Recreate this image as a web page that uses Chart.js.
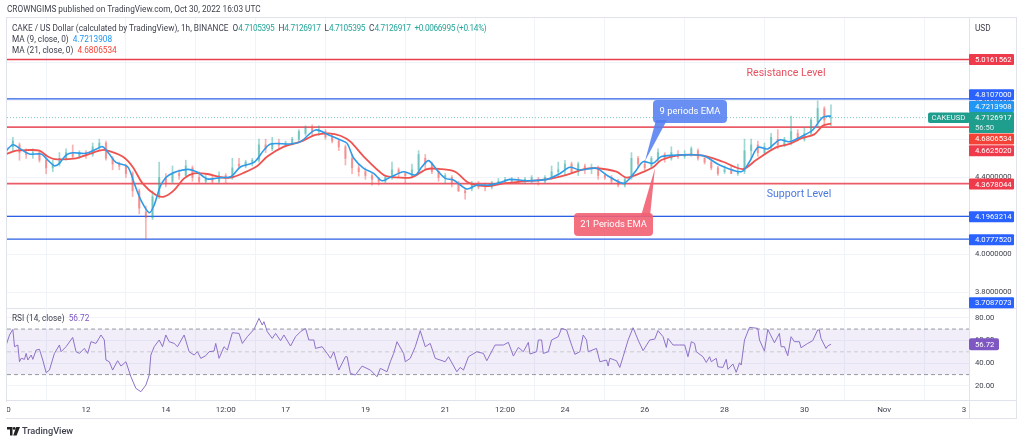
<!DOCTYPE html>
<html lang="en">
<head>
    <meta charset="UTF-8">
    <title>CAKE / US Dollar</title>
    <script src="https://cdn.jsdelivr.net/npm/chart.js"></script>
    <style>
        body {
            margin: 0;
            background: #fff;
            font-family: Roboto, sans-serif;
            color: #3c3f4a;
        }

        .page {
            position: relative;
            width: 1024px;
            height: 443px;
            overflow: hidden;
            filter: blur(0.35px);
        }

        canvas {
            position: absolute;
            left: 0;
            top: 0;
        }

        .label {
            position: absolute;
            white-space: pre;
            line-height: 11px;
            font-size: 8.25px;
        }

        .cover {
            position: absolute;
            left: 0;
            top: 402px;
            width: 7px;
            height: 16px;
            background: #fff;
        }

        .up { color: #26a69a; letter-spacing: -0.35px; margin-right: 4px; }
        .blue { color: #2196f3; }
        .red { color: #f44336; }
        .purple { color: #7e57c2; }
    </style>
</head>
<body>
<div class="page">
    <canvas id="chart" width="1024" height="443"></canvas>
    <div class="cover"></div>
    <div class="label" style="left:7px;top:4px;">CROWNGIMS published on TradingView.com, Oct 30, 2022 16:03 UTC</div>
    <div class="label" style="left:12px;top:23px;">CAKE / US Dollar (calculated by TradingView), 1h, BINANCE  O<span class="up">4.7105395</span>H<span class="up">4.7126917</span>L<span class="up">4.7105395</span>C<span class="up">4.7126917</span><span class="up">+0.0066995 (+0.14%)</span></div>
    <div class="label" style="left:12px;top:34px;">MA (9, close, 0)  <span class="blue">4.7213908</span></div>
    <div class="label" style="left:12px;top:45px;">MA (21, close, 0)  <span class="red">4.6806534</span></div>
    <div class="label" style="left:12px;top:313px;">RSI (14, close)  <span class="purple">56.72</span></div>
    <div class="label" style="left:975px;top:23px;">USD</div>
    <svg style="position:absolute;left:7px;top:427px;" width="13" height="9" viewBox="0 0 13 9">
        <path d="M0 0h5.5v8.5H3V2.6H0z M9.2 0H13L9.6 8.5H6.2z" fill="#222"/>
        <circle cx="7.2" cy="1.4" r="1.4" fill="#222"/>
    </svg>
    <div class="label" style="left:22px;top:425px;font-size:9.2px;font-weight:500;">TradingView</div>
</div>

<script>
    // hours counted from Oct 10 00:00
    const tickHours = [0, 48, 96, 132, 168, 216, 264, 300, 336, 384, 432, 480, 528, 576];
    const tickLabels = ['10', '12', '14', '12:00', '17', '19', '21', '12:00', '24', '26', '28', '30', 'Nov', '3'];

    const resistanceLevels = [5.0161562, 4.6625020, 4.3678044];
    const blueLevels = [4.8107000, 4.1963214, 4.0777520];
    const lastPrice = 4.7126917;
    const rsiBands = [70, 50, 30];

    const candleHours = [
        0, 4, 8, 12, 16, 20, 24, 28, 32, 36, 40, 44, 48, 52, 56, 60, 64, 68, 72, 76, 80, 84, 88, 92, 96,
        100, 104, 108, 112, 116, 120, 124, 128, 132, 136, 140, 144, 148, 152, 156, 160, 164, 168, 172, 176, 180, 184, 188, 192, 196,
        200, 204, 208, 212, 216, 220, 224, 228, 232, 236, 240, 244, 248, 252, 256, 260, 264, 268, 272, 276, 280, 284, 288, 292, 296,
        300, 304, 308, 312, 316, 320, 324, 328, 332, 336, 340, 344, 348, 352, 356, 360, 364, 368, 372, 376, 380, 384, 388, 392, 396,
        400, 404, 408, 412, 416, 420, 424, 428, 432, 436, 440, 444, 448, 452, 456, 460, 464, 468, 472, 476, 480, 484, 488, 492, 496
    ];
    const candleOpen = [
        4.53, 4.56, 4.57, 4.53, 4.52, 4.53, 4.49, 4.45, 4.47, 4.50, 4.53, 4.51, 4.53, 4.52, 4.56, 4.58, 4.50, 4.47, 4.46, 4.42, 4.33, 4.22, 4.19, 4.30, 4.40,
        4.38, 4.42, 4.41, 4.45, 4.40, 4.38, 4.39, 4.38, 4.41, 4.40, 4.47, 4.46, 4.48, 4.49, 4.57, 4.55, 4.58, 4.57, 4.58, 4.60, 4.63, 4.66, 4.64, 4.64, 4.61,
        4.59, 4.56, 4.50, 4.45, 4.43, 4.41, 4.39, 4.38, 4.40, 4.44, 4.42, 4.41, 4.44, 4.50, 4.47, 4.43, 4.40, 4.40, 4.37, 4.33, 4.34, 4.37, 4.36, 4.35, 4.37,
        4.38, 4.38, 4.39, 4.38, 4.39, 4.39, 4.38, 4.40, 4.43, 4.44, 4.47, 4.43, 4.46, 4.45, 4.45, 4.41, 4.40, 4.38, 4.36, 4.40, 4.50, 4.47, 4.46, 4.50, 4.52,
        4.50, 4.52, 4.51, 4.52, 4.54, 4.50, 4.48, 4.45, 4.43, 4.44, 4.42, 4.43, 4.54, 4.57, 4.53, 4.56, 4.60, 4.57, 4.60, 4.63, 4.60, 4.63, 4.69, 4.76, 4.7105395
    ];
    const candleClose = [
        4.56, 4.59, 4.53, 4.52, 4.53, 4.49, 4.45, 4.47, 4.50, 4.53, 4.51, 4.53, 4.52, 4.56, 4.58, 4.50, 4.47, 4.46, 4.42, 4.33, 4.24, 4.19, 4.30, 4.40, 4.37,
        4.42, 4.41, 4.46, 4.40, 4.38, 4.39, 4.38, 4.41, 4.40, 4.45, 4.46, 4.48, 4.49, 4.57, 4.55, 4.58, 4.57, 4.58, 4.60, 4.64, 4.66, 4.64, 4.65, 4.61, 4.59,
        4.56, 4.50, 4.45, 4.43, 4.41, 4.39, 4.38, 4.40, 4.44, 4.42, 4.41, 4.44, 4.52, 4.47, 4.43, 4.40, 4.41, 4.37, 4.33, 4.32, 4.37, 4.35, 4.35, 4.37, 4.38,
        4.39, 4.39, 4.38, 4.39, 4.40, 4.38, 4.40, 4.43, 4.44, 4.47, 4.43, 4.47, 4.44, 4.45, 4.41, 4.40, 4.38, 4.36, 4.39, 4.50, 4.47, 4.45, 4.50, 4.53, 4.50,
        4.53, 4.51, 4.52, 4.55, 4.50, 4.48, 4.45, 4.42, 4.44, 4.42, 4.43, 4.54, 4.57, 4.53, 4.56, 4.61, 4.57, 4.60, 4.64, 4.60, 4.63, 4.70, 4.76, 4.70, 4.7126917
    ];
    const candleLow = [
        4.51, 4.54, 4.49, 4.50, 4.50, 4.48, 4.42, 4.43, 4.46, 4.49, 4.50, 4.50, 4.50, 4.51, 4.54, 4.49, 4.44, 4.44, 4.40, 4.30, 4.21, 4.08, 4.18, 4.29, 4.35,
        4.37, 4.39, 4.40, 4.38, 4.37, 4.37, 4.37, 4.37, 4.37, 4.39, 4.45, 4.45, 4.46, 4.48, 4.53, 4.54, 4.55, 4.56, 4.57, 4.58, 4.62, 4.62, 4.62, 4.60, 4.58,
        4.54, 4.465, 4.42, 4.407, 4.39, 4.36, 4.36, 4.37, 4.39, 4.40, 4.37, 4.40, 4.42, 4.44, 4.42, 4.38, 4.37, 4.35, 4.326, 4.286, 4.33, 4.34, 4.33, 4.34, 4.36,
        4.37, 4.37, 4.37, 4.37, 4.37, 4.36, 4.37, 4.39, 4.41, 4.41, 4.42, 4.41, 4.42, 4.42, 4.39, 4.39, 4.37, 4.35, 4.35, 4.39, 4.45, 4.44, 4.45, 4.48, 4.48,
        4.49, 4.50, 4.50, 4.51, 4.49, 4.47, 4.44, 4.41, 4.42, 4.42, 4.41, 4.42, 4.50, 4.51, 4.52, 4.54, 4.55, 4.56, 4.57, 4.59, 4.59, 4.62, 4.66, 4.67, 4.67
    ];
    const candleHigh = [
        4.58, 4.61, 4.58, 4.55, 4.55, 4.54, 4.50, 4.49, 4.53, 4.55, 4.57, 4.54, 4.54, 4.58, 4.60, 4.59, 4.51, 4.48, 4.47, 4.43, 4.34, 4.25, 4.33, 4.48, 4.42,
        4.46, 4.44, 4.49, 4.46, 4.43, 4.41, 4.41, 4.43, 4.42, 4.50, 4.50, 4.49, 4.50, 4.60, 4.60, 4.61, 4.60, 4.59, 4.61, 4.65, 4.67, 4.675, 4.67, 4.65, 4.63,
        4.60, 4.57, 4.52, 4.47, 4.45, 4.42, 4.40, 4.41, 4.48, 4.45, 4.43, 4.47, 4.54, 4.52, 4.48, 4.44, 4.42, 4.41, 4.38, 4.34, 4.38, 4.38, 4.37, 4.38, 4.395,
        4.40, 4.40, 4.40, 4.40, 4.41, 4.40, 4.41, 4.46, 4.48, 4.49, 4.48, 4.48, 4.47, 4.47, 4.46, 4.42, 4.41, 4.39, 4.40, 4.53, 4.51, 4.49, 4.51, 4.55, 4.53,
        4.56, 4.54, 4.54, 4.56, 4.55, 4.51, 4.49, 4.46, 4.46, 4.46, 4.47, 4.60, 4.60, 4.59, 4.58, 4.63, 4.65, 4.61, 4.72, 4.65, 4.66, 4.71, 4.80, 4.77, 4.78
    ];

    const ma9Hours = [
        0, 4, 8, 14, 21, 25, 29, 32, 36, 40, 48, 54, 58, 62, 66, 73, 77, 81, 86, 89, 93, 98, 109, 115, 121, 129, 135, 141, 149, 155, 159, 171, 177, 186, 194, 201,
        205, 209, 215, 221, 226, 231, 239, 246, 250, 254, 259, 264, 269, 277, 283, 290, 297, 303, 313, 325, 333, 339, 345, 355, 361, 371, 375, 379, 383, 389, 394, 405,
        419, 429, 442, 447, 452, 458, 465, 471, 478, 485, 491, 496
    ];
    const ma9Values = [
        4.540, 4.571, 4.552, 4.522, 4.522, 4.491, 4.461, 4.474, 4.517, 4.529, 4.526, 4.547, 4.561, 4.522, 4.479, 4.456, 4.369, 4.282, 4.216, 4.256, 4.360, 4.413, 4.442, 4.427, 4.392, 4.399, 4.404, 4.456, 4.479, 4.543, 4.575, 4.575, 4.587, 4.648, 4.622, 4.596,
        4.578, 4.500, 4.448, 4.421, 4.383, 4.401, 4.430, 4.413, 4.456, 4.488, 4.439, 4.395, 4.387, 4.340, 4.360, 4.360, 4.373, 4.390, 4.383, 4.390, 4.421, 4.453, 4.439, 4.448, 4.413, 4.369, 4.395, 4.439, 4.482, 4.474, 4.509, 4.517,
        4.514, 4.465, 4.430, 4.482, 4.557, 4.549, 4.596, 4.587, 4.613, 4.648, 4.714, 4.7213908
    ];
    const ma21Hours = [
        0, 6, 12, 20, 25, 29, 42, 48, 56, 60, 70, 76, 82, 90, 95, 101, 107, 113, 121, 129, 135, 143, 151, 157, 167, 177, 186, 194, 201,
        207, 215, 227, 233, 244, 253, 261, 270, 278, 289, 299, 309, 325, 337, 347, 355, 367, 373, 381, 389, 394, 405,
        419, 431, 443, 451, 463, 471, 478, 486, 491, 496
    ];
    const ma21Values = [
        4.522, 4.540, 4.543, 4.540, 4.509, 4.496, 4.500, 4.517, 4.540, 4.543, 4.509, 4.456, 4.369, 4.308, 4.300, 4.334, 4.395, 4.421, 4.418, 4.401, 4.399, 4.425, 4.460, 4.509, 4.561, 4.587, 4.622, 4.630, 4.618,
        4.587, 4.509, 4.413, 4.401, 4.401, 4.444, 4.444, 4.430, 4.373, 4.355, 4.369, 4.378, 4.390, 4.413, 4.442, 4.448, 4.430, 4.399, 4.421, 4.453, 4.491, 4.517,
        4.514, 4.482, 4.444, 4.491, 4.557, 4.575, 4.604, 4.625, 4.670, 4.6806534
    ];

    const rsiHours = [
        0, 2, 4, 5, 7, 8, 9, 11, 12, 13, 15, 16, 18, 20, 22, 24, 26, 29, 32, 33, 36, 40, 42, 44, 47, 49, 51, 54, 57, 59, 60, 62, 64, 67, 69, 72, 75, 78, 81, 84, 86, 87, 89, 92, 94, 96, 98,
        101, 103, 107, 110, 113, 115, 117, 120, 122, 125, 126, 128, 131, 133, 136, 140, 142, 145, 149, 152, 154, 155, 157, 160, 162, 165, 167, 171, 174, 177, 180, 182, 185, 186, 190, 193, 195, 197, 200,
        204, 205, 207, 210, 214, 219, 223, 225, 229, 231, 233, 235, 239, 240, 243, 246, 249, 252, 255, 258, 264, 266, 271, 273, 275, 278, 283, 287, 289, 294, 299,
        302, 305, 308, 311, 314, 315, 319, 320, 322, 323, 326, 328, 332, 334, 337, 340, 342, 345, 347, 349, 350, 355, 357, 361, 362, 363, 367, 369, 371, 374, 377, 380, 383, 387, 390, 392, 395, 397, 398,
        401, 405, 408, 410, 412, 414, 415, 419, 421, 423, 424, 427, 428, 431, 433, 434, 437, 439, 441, 442, 444, 447, 452, 453, 456, 458, 462, 465, 466, 468, 470, 472, 474, 477, 478, 482, 485, 488, 489, 490, 493, 494, 496
    ];
    const rsiValues = [
        56.0, 64.8, 69.7, 54.5, 56.0, 41.3, 44.3, 43.4, 48.6, 42.8, 47.2, 43.4, 51.6, 52.2, 42.8, 31.7, 34.0, 48.6, 56.0, 50.1, 54.5, 62.7, 50.1, 48.6, 53.0, 48.6, 58.9, 57.4, 64.8, 60.4, 42.8, 41.3, 34.0, 42.2, 37.5, 41.3, 28.1, 17.9, 15.0, 20.8, 29.6, 47.2, 54.5, 60.4, 54.5, 64.8, 58.9,
        57.4, 54.5, 64.8, 50.1, 47.2, 50.1, 44.3, 46.6, 50.1, 50.7, 57.4, 44.3, 54.5, 51.6, 66.8, 66.2, 57.4, 63.3, 69.7, 79.4, 73.5, 76.5, 67.7, 61.8, 66.2, 59.8, 64.8, 55.1, 63.3, 67.7, 70.6, 60.4, 60.4, 53.0, 54.5, 48.6, 44.3, 50.1, 34.0,
        45.7, 45.7, 31.1, 29.6, 37.5, 34.0, 28.1, 35.5, 32.5, 41.3, 48.6, 58.9, 48.6, 41.3, 44.3, 54.5, 68.6, 54.5, 57.4, 44.3, 41.3, 45.7, 32.5, 36.3, 34.0, 45.7, 50.1, 48.6, 42.2, 56.0, 56.0,
        58.3, 46.3, 53.9, 50.1, 58.3, 48.1, 50.1, 60.4, 60.4, 48.6, 50.1, 60.4, 63.3, 70.6, 69.2, 56.0, 47.8, 50.1, 64.8, 60.4, 50.1, 53.0, 41.3, 42.8, 37.5, 44.3, 42.2, 36.3, 45.7, 60.4, 71.2, 60.4, 51.0, 60.4, 61.2, 68.6, 63.3, 53.9, 61.8,
        56.0, 56.0, 56.0, 45.7, 58.9, 57.4, 50.1, 45.7, 40.7, 45.7, 41.3, 44.3, 36.9, 36.3, 43.4, 34.6, 39.3, 32.0, 40.4, 38.4, 60.4, 71.5, 70.6, 60.4, 50.7, 69.7, 58.0, 66.2, 54.5, 54.5, 46.6, 63.3, 58.9, 58.9, 53.6, 57.4, 59.8, 69.2, 69.2, 61.8, 53.0, 55.1, 56.72
    ];

    const UP = '#26a69a';
    const DOWN = '#ef5350';
    const RED_LEVEL = '#e8404f';
    const BLUE_LEVEL = '#2a5fe6';
    const BORDER = '#e0e3eb';
    const GRID = '#f0f3fa';
    const FONT = 'Roboto, sans-serif';
    const xMin = 0.48;
    const xMax = 579;

    function toPoints(xs, ys) {
        return xs.map((x, i) => ({ x: x, y: ys[i] }));
    }

    function flatLine(value, color, width, yAxisID, extra) {
        return Object.assign({
            type: 'line',
            data: [{ x: xMin, y: value }, { x: xMax, y: value }],
            borderColor: color,
            borderWidth: width,
            pointRadius: 0,
            yAxisID: yAxisID,
            order: 5
        }, extra || {});
    }

    const datasets = [];

    // candle wicks and bodies as floating bars
    const candleColors = candleOpen.map((o, i) => candleClose[i] >= o ? UP : DOWN);
    datasets.push({
        type: 'bar',
        data: candleHours.map((h, i) => ({ x: h, y: [candleLow[i], candleHigh[i]] })),
        backgroundColor: candleColors.map(c => c + '70'),
        barThickness: 1,
        grouped: false,
        yAxisID: 'y',
        order: 4
    });
    datasets.push({
        type: 'bar',
        data: candleHours.map((h, i) => ({ x: h, y: [candleOpen[i], candleClose[i]] })),
        backgroundColor: candleColors.map(c => c + '60'),
        barThickness: 1.6,
        grouped: false,
        yAxisID: 'y',
        order: 4
    });

    resistanceLevels.forEach((v, i) => {
        datasets.push(flatLine(v, i === 0 ? RED_LEVEL : 'rgba(232, 64, 79, 0.85)', i === 0 ? 1.3 : 1.8, 'y'));
    });
    blueLevels.forEach(v => datasets.push(flatLine(v, BLUE_LEVEL, 1.3, 'y')));
    datasets.push(flatLine(lastPrice, 'rgba(38, 166, 154, 0.6)', 1, 'y', { borderDash: [1, 2] }));

    datasets.push({
        type: 'line',
        data: toPoints(ma21Hours, ma21Values),
        borderColor: '#ef5350',
        borderWidth: 1.8,
        pointRadius: 0,
        tension: 0.3,
        yAxisID: 'y',
        order: 2
    });
    datasets.push({
        type: 'line',
        data: toPoints(ma9Hours, ma9Values),
        borderColor: '#2f9be8',
        borderWidth: 1.6,
        pointRadius: 0,
        tension: 0.3,
        yAxisID: 'y',
        order: 1
    });

    // RSI pane
    const bandTopIndex = datasets.length;
    datasets.push(flatLine(rsiBands[0], '#9598a1', 1, 'rsi', { borderDash: [4, 3] }));
    datasets.push(flatLine(rsiBands[1], '#c9cad0', 1, 'rsi', { borderDash: [4, 3] }));
    datasets.push(flatLine(rsiBands[2], '#9598a1', 1, 'rsi', {
        borderDash: [4, 3],
        fill: { target: bandTopIndex },
        backgroundColor: 'rgba(126, 87, 194, 0.1)'
    }));
    datasets.push({
        type: 'line',
        data: toPoints(rsiHours, rsiValues),
        borderColor: '#8e72c9',
        borderWidth: 1,
        pointRadius: 0,
        yAxisID: 'rsi',
        order: 1
    });

    // price tags on the right, shift moves a tag off its neighbour like TradingView does
    const priceTags = [
        { value: 5.0161562, text: '5.0161562', color: '#ee3a4b', shift: 0 },
        { value: 4.8107000, text: '4.8107000', color: '#2962ff', shift: -4 },
        { value: 4.7213908, text: '4.7213908', color: '#2196f3', shift: -9.5 },
        { value: 4.6806534, text: '4.6806534', color: '#f44336', shift: 15.3 },
        { value: 4.6625020, text: '4.6625020', color: '#ee3a4b', shift: 23.5 },
        { value: 4.3678044, text: '4.3678044', color: '#ee3a4b', shift: 0.5 },
        { value: 4.1963214, text: '4.1963214', color: '#2962ff', shift: 0.3 },
        { value: 4.0777520, text: '4.0777520', color: '#2962ff', shift: 0.7 },
        { value: 3.7087073, text: '3.7087073', color: '#2962ff', shift: -7 }
    ];

    function roundedBox(ctx, x, y, w, h, r) {
        ctx.beginPath();
        ctx.roundRect(x, y, w, h, r);
        ctx.fill();
    }

    function callout(ctx, box, tail, text, color) {
        ctx.fillStyle = color;
        roundedBox(ctx, box[0], box[1], box[2], box[3], 4);
        ctx.beginPath();
        ctx.moveTo(tail[0], tail[1]);
        ctx.lineTo(tail[2], tail[3]);
        ctx.lineTo(tail[4], tail[5]);
        ctx.closePath();
        ctx.fill();
        ctx.fillStyle = '#fff';
        ctx.font = '9.4px ' + FONT;
        ctx.textAlign = 'center';
        ctx.textBaseline = 'middle';
        ctx.fillText(text, box[0] + box[2] / 2, box[1] + box[3] / 2 + 0.5);
    }

    const tradingViewChrome = {
        id: 'tradingViewChrome',
        beforeDraw(chart) {
            const ctx = chart.ctx;
            const a = chart.chartArea;
            const split = chart.scales.y.bottom;
            ctx.save();
            ctx.fillStyle = '#fff';
            ctx.fillRect(0, 0, chart.width, chart.height);
            ctx.strokeStyle = BORDER;
            ctx.lineWidth = 1;
            ctx.strokeRect(a.left - 0.5, a.top - 0.5, 1017 - a.left, 419 - a.top);
            ctx.beginPath();
            ctx.moveTo(a.left, split + 0.5);
            ctx.lineTo(1017, split + 0.5);
            ctx.moveTo(a.left, a.bottom + 0.5);
            ctx.lineTo(1017, a.bottom + 0.5);
            ctx.moveTo(a.right + 0.5, a.top);
            ctx.lineTo(a.right + 0.5, 419);
            ctx.stroke();
            ctx.restore();
        },
        afterDraw(chart) {
            const ctx = chart.ctx;
            const y = chart.scales.y;
            const rsi = chart.scales.rsi;
            const x0 = chart.chartArea.right;
            ctx.save();
            ctx.textBaseline = 'middle';
            ctx.font = '7.7px ' + FONT;
            ctx.textAlign = 'left';

            priceTags.forEach(tag => {
                const py = y.getPixelForValue(tag.value) + tag.shift;
                ctx.fillStyle = tag.color;
                roundedBox(ctx, x0, py - 5.5, 45, 11, 1);
                ctx.fillStyle = '#fff';
                ctx.fillText(tag.text, x0 + 6, py + 0.5);
            });

            // last price tag with countdown
            const lastY = y.getPixelForValue(lastPrice);
            ctx.fillStyle = '#1f9d8d';
            roundedBox(ctx, x0, lastY - 5.5, 45, 21, 1);
            roundedBox(ctx, 928, lastY - 5, 42, 10.5, 2);
            ctx.fillStyle = '#fff';
            ctx.fillText('4.7126917', x0 + 6, lastY + 0.5);
            ctx.fillStyle = '#d6f0ec';
            ctx.fillText('56:50', x0 + 6, lastY + 10);
            ctx.fillStyle = '#e8f6f4';
            ctx.fillText('CAKEUSD', 931.5, lastY + 0.5);

            const rsiY = rsi.getPixelForValue(rsiValues[rsiValues.length - 1]);
            ctx.fillStyle = '#7e57c2';
            roundedBox(ctx, x0, rsiY - 6, 30, 12, 2);
            ctx.fillStyle = '#fff';
            ctx.fillText('56.72', x0 + 6, rsiY + 0.5);

            callout(ctx, [653, 100, 74, 23], [656, 120, 645, 161, 667, 120], '9 periods EMA', 'rgba(84, 127, 240, 0.88)');
            callout(ctx, [574, 213, 79, 23], [641, 216, 655, 168, 650, 216], '21 Periods EMA', 'rgba(242, 96, 115, 0.9)');

            ctx.font = '10.6px ' + FONT;
            ctx.textAlign = 'center';
            ctx.fillStyle = '#e7505f';
            ctx.fillText('Resistance Level', 786, 73.5);
            ctx.fillStyle = '#4a79e0';
            ctx.fillText('Support Level', 799, 194.5);
            ctx.restore();
        }
    };

    new Chart(document.getElementById('chart'), {
        data: { datasets: datasets },
        plugins: [tradingViewChrome],
        options: {
            responsive: false,
            animation: false,
            devicePixelRatio: 1,
            layout: { padding: { left: 7, top: 18, right: 7, bottom: 24 } },
            plugins: { legend: { display: false }, tooltip: { enabled: false } },
            scales: {
                x: {
                    type: 'linear',
                    min: xMin,
                    max: xMax,
                    offset: false,
                    afterBuildTicks(scale) {
                        scale.ticks = tickHours.map(h => ({ value: h }));
                    },
                    afterFit(scale) {
                        scale.height = 19;
                        scale.paddingLeft = 0;
                        scale.paddingRight = 0;
                    },
                    grid: { color: GRID, drawTicks: false, drawOnChartArea: true },
                    border: { display: false },
                    ticks: {
                        autoSkip: false,
                        maxRotation: 0,
                        padding: 5,
                        color: '#3c3f4a',
                        font: { family: FONT, size: 8 },
                        callback(value) {
                            return tickLabels[tickHours.indexOf(value)];
                        }
                    }
                },
                y: {
                    position: 'right',
                    stack: 'panes',
                    stackWeight: 290,
                    min: 3.718,
                    max: 5.233,
                    afterBuildTicks(scale) {
                        scale.ticks = [3.8, 4, 4.2, 4.4, 4.6, 4.8, 5].map(v => ({ value: v }));
                    },
                    afterFit(scale) {
                        scale.width = 48;
                    },
                    grid: { color: GRID, drawTicks: false },
                    border: { display: false },
                    ticks: {
                        padding: 6,
                        color: '#3c3f4a',
                        font: { family: FONT, size: 7.7 },
                        callback(value) {
                            return value.toFixed(7);
                        }
                    }
                },
                rsi: {
                    position: 'right',
                    stack: 'panes',
                    stackWeight: 92,
                    min: 7.7,
                    max: 88.5,
                    afterBuildTicks(scale) {
                        scale.ticks = [20, 40, 60, 80].map(v => ({ value: v }));
                    },
                    afterFit(scale) {
                        scale.width = 48;
                    },
                    grid: { color: GRID, drawTicks: false },
                    border: { display: false },
                    ticks: {
                        padding: 6,
                        color: '#3c3f4a',
                        font: { family: FONT, size: 7.7 },
                        callback(value) {
                            return value.toFixed(2);
                        }
                    }
                }
            }
        }
    });
</script>
</body>
</html>
